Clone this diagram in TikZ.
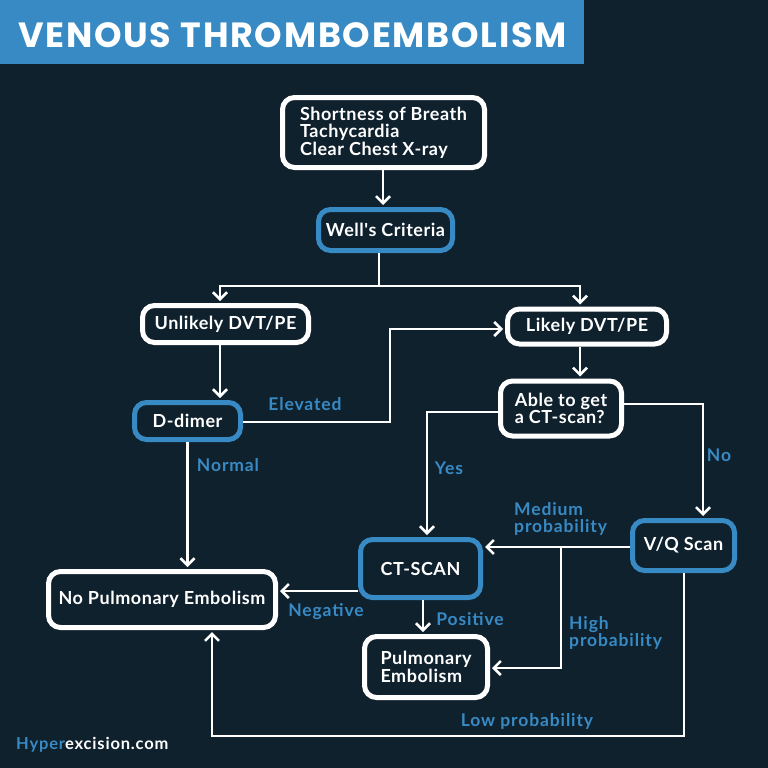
\documentclass[tikz,border=0pt]{standalone}
\usepackage{fontspec}
\setmainfont{Lato}
\newfontfamily\titlefont[LetterSpace=5]{Poppins}
\newfontfamily\boxfont[LetterSpace=3]{Lato}
\newfontfamily\lblfont[LetterSpace=5]{Lato}
\usetikzlibrary{arrows.meta}
\definecolor{bg}{HTML}{10212E}
\definecolor{vblue}{HTML}{378AC4}
\tikzset{
  box/.style={draw=white, line width=5pt, rounded corners=12pt, fill=bg, text=white,
    font=\boxfont\bfseries\fontsize{18}{17.5}\selectfont, align=center, inner sep=0pt},
  bbox/.style={box, draw=vblue},
  arr/.style={draw=white, line width=2.5pt, -{Straight Barb[length=7pt,width=14pt]}, shorten >=2pt},
  conn/.style={draw=white, line width=2.5pt},
  lbl/.style={text=vblue, font=\lblfont\bfseries\fontsize{17.5}{17.5}\selectfont, align=left, inner sep=0pt}
}
\begin{document}
\begin{tikzpicture}[x=1pt,y=-1pt]
\fill[bg] (0,0) rectangle (768,768);
\useasboundingbox (0,0) rectangle (768,768);
\fill[vblue] (0,0) rectangle (584,64);
\node[text=white, font=\titlefont\bfseries\fontsize{35}{40}\selectfont, anchor=west, inner sep=0pt] (title) at (18,35) {VENOUS THROMBOEMBOLISM};

% nodes
\node[box, minimum width=202pt, minimum height=70pt, align=left] (top) at (383.5,132.5) {Shortness of Breath\\Tachycardia\\Clear Chest X-ray};
\node[bbox, minimum width=134pt, minimum height=41pt] (well) at (385.5,230) {Well's Criteria};
\node[box, minimum width=166pt, minimum height=37pt] (unl) at (225.5,324) {Unlikely DVT/PE};
\node[box, minimum width=159pt, minimum height=35pt] (lik) at (587,326.5) {Likely DVT/PE};
\node[bbox, minimum width=106pt, minimum height=37pt] (dd) at (187.5,421) {D-dimer};
\node[box, minimum width=121pt, minimum height=55pt, align=left] (able) at (561,408.5) {Able to get\\a CT-scan?};
\node[bbox, minimum width=102pt, minimum height=50pt] (vq) at (683.5,545.5) {V/Q Scan};
\node[bbox, minimum width=120pt, minimum height=58pt] (ct) at (420.5,568.5) {CT-SCAN};
\node[box, minimum width=227pt, minimum height=56pt] (nope) at (162,599.5) {No Pulmonary Embolism};
\node[box, minimum width=123pt, minimum height=61pt, align=left] (pe) at (426,667) {Pulmonary\\Embolism};

% coordinates
\coordinate (tx) at (383,0);
\coordinate (sp) at (379,286);
\coordinate (e1) at (390,422);
\coordinate (lx) at (580,0);
\coordinate (yes1) at (427,412);
\coordinate (no1) at (703,404);
\coordinate (md) at (0,547);
\coordinate (hi) at (561,668);
\coordinate (lo) at (684,736);
\coordinate (lo2) at (212,736);
\coordinate (ng) at (0,591);
\coordinate (ps) at (423,0);

% connectors
\draw[arr] (top.south -| tx) -- (well.north -| tx);
\draw[conn] (well.south -| sp) -- (sp);
\draw[arr] (sp) -| ([xshift=-5.5pt]unl.north);
\draw[arr] (sp) -| ([xshift=-7pt]lik.north);
\draw[arr] ([xshift=-5.5pt]unl.south) -- ([xshift=-5.5pt]unl.south |- dd.north);
\draw[arr] (dd.east |- e1) -- (e1) |- ([yshift=-2.5pt]lik.west);
\draw[arr] (dd.south) -- (dd.south |- nope.north);
\draw[arr] (lik.south -| lx) -- (able.north -| lx);
\draw[arr] (able.west |- yes1) -| (ct.north -| yes1);
\draw[arr] (able.east |- no1) -| (vq.north -| no1);
\draw[arr] (vq.west |- md) -- (ct.east |- md);
\draw[arr] (hi |- md) |- (pe.east |- hi);
\draw[arr] (vq.south -| lo) |- (lo2) -- (nope.south -| lo2);
\draw[arr] (ct.west |- ng) -- (nope.east |- ng);
\draw[arr] (ct.south -| ps) -- (pe.north -| ps);

% labels
\node[lbl] (lelev) at (305,404) {Elevated};
\node[lbl] (lnorm) at (228,465) {Normal};
\node[lbl] (lyes) at (449,468) {Yes};
\node[lbl] (lno) at (719,455) {No};
\node[lbl, anchor=west] (lmed) at (514,519) {Medium\\probability};
\node[lbl, anchor=west] (lhigh) at (569,633) {High\\probability};
\node[lbl] (llow) at (527,721) {Low probability};
\node[lbl] (lneg) at (326,612) {Negative};
\node[lbl] (lpos) at (470,619) {Positive};

\node[anchor=west, inner sep=0pt, font=\lblfont\bfseries\fontsize{16.5}{18}\selectfont] (foot) at (16,745) {\textcolor{vblue}{Hyper}\textcolor{white}{excision.com}};
\end{tikzpicture}
\end{document}
